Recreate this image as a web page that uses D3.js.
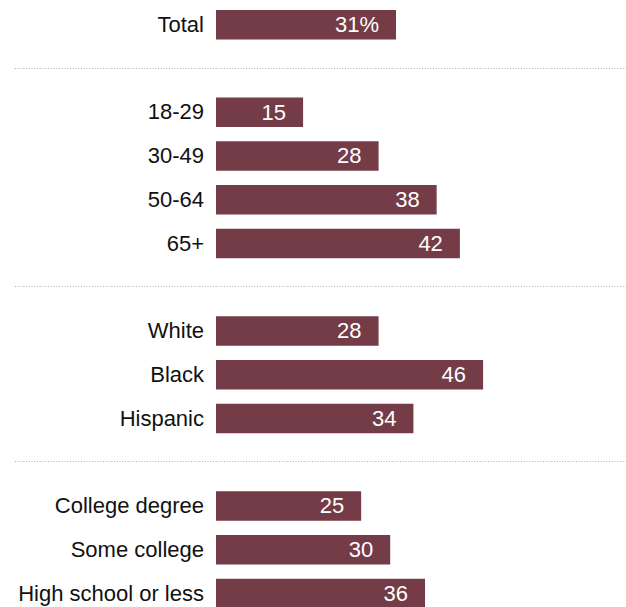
<!DOCTYPE html>
<html>
<head>
<meta charset="utf-8">
<script src="https://cdn.jsdelivr.net/npm/d3@7"></script>
<style>
  html, body { margin: 0; padding: 0; background: #fff; }
  svg { display: block; }
  text { font-family: "Liberation Sans", Arial, sans-serif; }
</style>
</head>
<body>
<div id="chart"></div>
<script>
// Row labels, grouped; groups are separated by dotted rules
const groups = [
  ["Total"],
  ["18-29", "30-49", "50-64", "65+"],
  ["White", "Black", "Hispanic"],
  ["College degree", "Some college", "High school or less"]
];
const values = [
  [31],
  [15, 28, 38, 42],
  [28, 46, 34],
  [25, 30, 36]
];

const width = 626, height = 607;
const barColor = "#733c47";
const barHeight = 29.5, rowStep = 43.75, chartTop = 10;

// Slot list: each group's rows, with one empty slot between groups
const slots = [];
groups.forEach((g, gi) => {
  if (gi > 0) slots.push({ sep: true, key: "sep" + gi });
  g.forEach((name, i) => slots.push({ name, value: values[gi][i], key: name, first: gi === 0 }));
});

const svg = d3.select("#chart").append("svg")
  .attr("width", width).attr("height", height);

const n = slots.length;
const y = d3.scaleBand()
  .domain(slots.map(d => d.key))
  .range([chartTop, chartTop + (n - 1) * rowStep + barHeight])
  .paddingInner(1 - barHeight / rowStep)
  .paddingOuter(0);

const x = d3.scaleLinear().domain([0, 31]).range([216, 396]);

// Dotted separators
svg.selectAll("line.sep")
  .data(slots.filter(d => d.sep))
  .join("line")
  .attr("class", "sep")
  .attr("x1", 15).attr("x2", width)
  .attr("y1", d => Math.round(y(d.key) + y.bandwidth() / 2) - 0.5)
  .attr("y2", d => Math.round(y(d.key) + y.bandwidth() / 2) - 0.5)
  .attr("stroke", "#b0b0b0")
  .attr("stroke-width", 1)
  .attr("stroke-dasharray", "1,1.75");

const rows = slots.filter(d => !d.sep);

svg.selectAll("rect.bar")
  .data(rows)
  .join("rect")
  .attr("class", "bar")
  .attr("x", x(0))
  .attr("y", d => y(d.key))
  .attr("width", d => x(d.value) - x(0))
  .attr("height", y.bandwidth())
  .attr("fill", barColor);

svg.selectAll("text.label")
  .data(rows)
  .join("text")
  .attr("class", "label")
  .attr("x", x(0) - 12)
  .attr("y", d => y(d.key) + y.bandwidth() / 2)
  .attr("dy", "0.32em")
  .attr("text-anchor", "end")
  .attr("font-size", 22)
  .attr("fill", "#111")
  .text(d => d.name);

svg.selectAll("text.value")
  .data(rows)
  .join("text")
  .attr("class", "value")
  .attr("x", d => x(d.value) - 17)
  .attr("y", d => y(d.key) + y.bandwidth() / 2)
  .attr("dy", "0.34em")
  .attr("text-anchor", "end")
  .attr("font-size", 22)
  .attr("fill", "#fff")
  .text(d => d.first ? d.value + "%" : d.value);
</script>
</body>
</html>
